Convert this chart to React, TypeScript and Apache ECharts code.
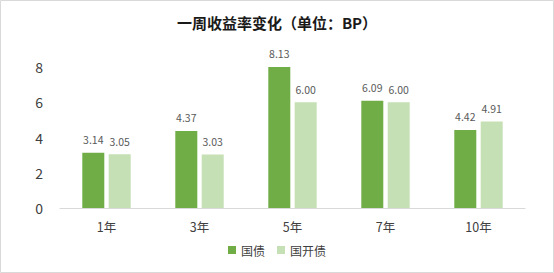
import React, { useEffect, useRef } from "react";
import * as echarts from "echarts";

const categories = ["1年", "3年", "5年", "7年", "10年"];
const guozhai = [3.14, 4.37, 8.13, 6.09, 4.42];
const guokaizhai = [3.05, 3.03, 6.0, 6.0, 4.91];
const yTicks = { min: 0, max: 8, interval: 2 };

export default function App() {
  const ref = useRef<HTMLDivElement>(null);
  useEffect(() => {
    if (!ref.current) return;
    const chart = echarts.init(ref.current, undefined, { renderer: "svg" });
    const font = "'Microsoft YaHei', 'Noto Sans CJK SC', sans-serif";
    const label = {
      show: true,
      position: "top" as const,
      distance: 8,
      color: "#595959",
      fontSize: 10.5,
      fontFamily: font,
      formatter: (p: any) => p.value.toFixed(2),
    };
    chart.setOption({
      animation: false,
      backgroundColor: "#fff",
      title: {
        text: "一周收益率变化（单位：BP）",
        left: "center",
        top: 10,
        textStyle: { fontSize: 15, fontWeight: "bold", color: "#1a1a1a", fontFamily: font },
      },
      graphic: [
        {
          type: "rect",
          shape: { x: 0.5, y: 0.5, width: 553, height: 272 },
          style: { fill: "none", stroke: "#d9d9d9", lineWidth: 1 },
          silent: true,
        },
      ],
      legend: {
        bottom: 12,
        left: "center",
        itemWidth: 8,
        itemHeight: 8,
        itemGap: 12,
        icon: "rect",
        textStyle: { fontSize: 12, color: "#404040", fontFamily: font },
        data: ["国债", "国开债"],
      },
      grid: { left: 60, right: 29, top: 67, bottom: 65 },
      xAxis: {
        type: "category",
        data: categories,
        axisLine: { lineStyle: { color: "#d9d9d9", width: 1 } },
        axisTick: { show: false },
        axisLabel: { color: "#404040", fontSize: 12.5, margin: 12, fontFamily: font },
      },
      yAxis: {
        type: "value",
        min: yTicks.min,
        max: yTicks.max,
        interval: yTicks.interval,
        axisLine: { show: false },
        axisTick: { show: false },
        splitLine: { show: false },
        axisLabel: { color: "#404040", fontSize: 14, margin: 17, fontFamily: font },
      },
      series: [
        {
          name: "国债",
          type: "bar",
          data: guozhai,
          barWidth: 22,
          barGap: "20%",
          itemStyle: { color: "#70AD47" },
          label,
        },
        {
          name: "国开债",
          type: "bar",
          data: guokaizhai,
          barWidth: 22,
          itemStyle: { color: "#C5E0B4" },
          label,
        },
      ],
    });
    return () => chart.dispose();
  }, []);
  return (
    <div
      ref={ref}
      style={{ position: "absolute", left: 0, top: 0, width: 554, height: 273 }}
    />
  );
}
